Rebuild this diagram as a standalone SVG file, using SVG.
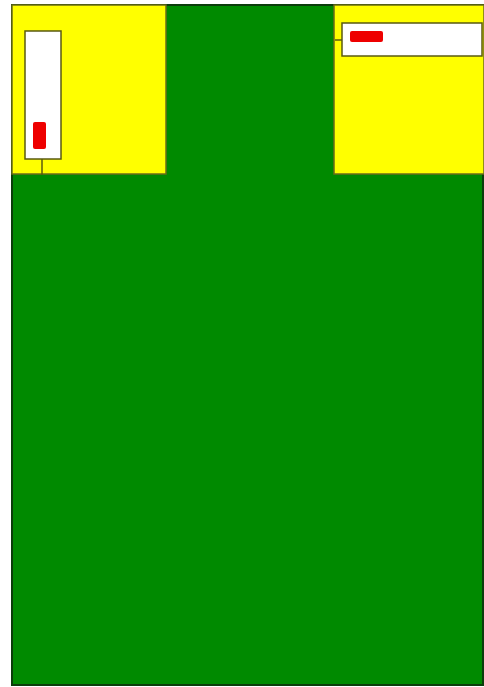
<svg xmlns="http://www.w3.org/2000/svg" width="484" height="687" viewBox="0 0 484 687">
<style>
.plate{fill:#008a00;stroke:#0b3d0b;stroke-width:2}
.zone{fill:#ffff00;stroke:#6b6b1a;stroke-width:1.5}
.box{fill:#ffffff;stroke:#5a5a10;stroke-width:1.5}
.mark{fill:#ee0000}
.conn{stroke:#5a5a10;stroke-width:1.5;fill:none}
</style>
<rect width="484" height="687" fill="#ffffff"/>
<g id="plate"><rect class="plate" x="12" y="5" width="471" height="680"/></g>
<g id="zone-left"><rect class="zone" x="12" y="5" width="154" height="169"/></g>
<g id="zone-right"><rect class="zone" x="334" y="5" width="150" height="169"/></g>
<g id="connectors">
<line class="conn" x1="42" y1="159" x2="42" y2="175"/>
<line class="conn" x1="335" y1="40" x2="342" y2="40"/>
</g>
<g id="box-left"><rect class="box" x="25" y="31" width="36" height="128"/><rect class="mark" x="33" y="122" width="13" height="27" rx="2"/></g>
<g id="box-right"><rect class="box" x="342" y="23" width="140" height="33"/><rect class="mark" x="350" y="31" width="33" height="11" rx="2"/></g>
</svg>
